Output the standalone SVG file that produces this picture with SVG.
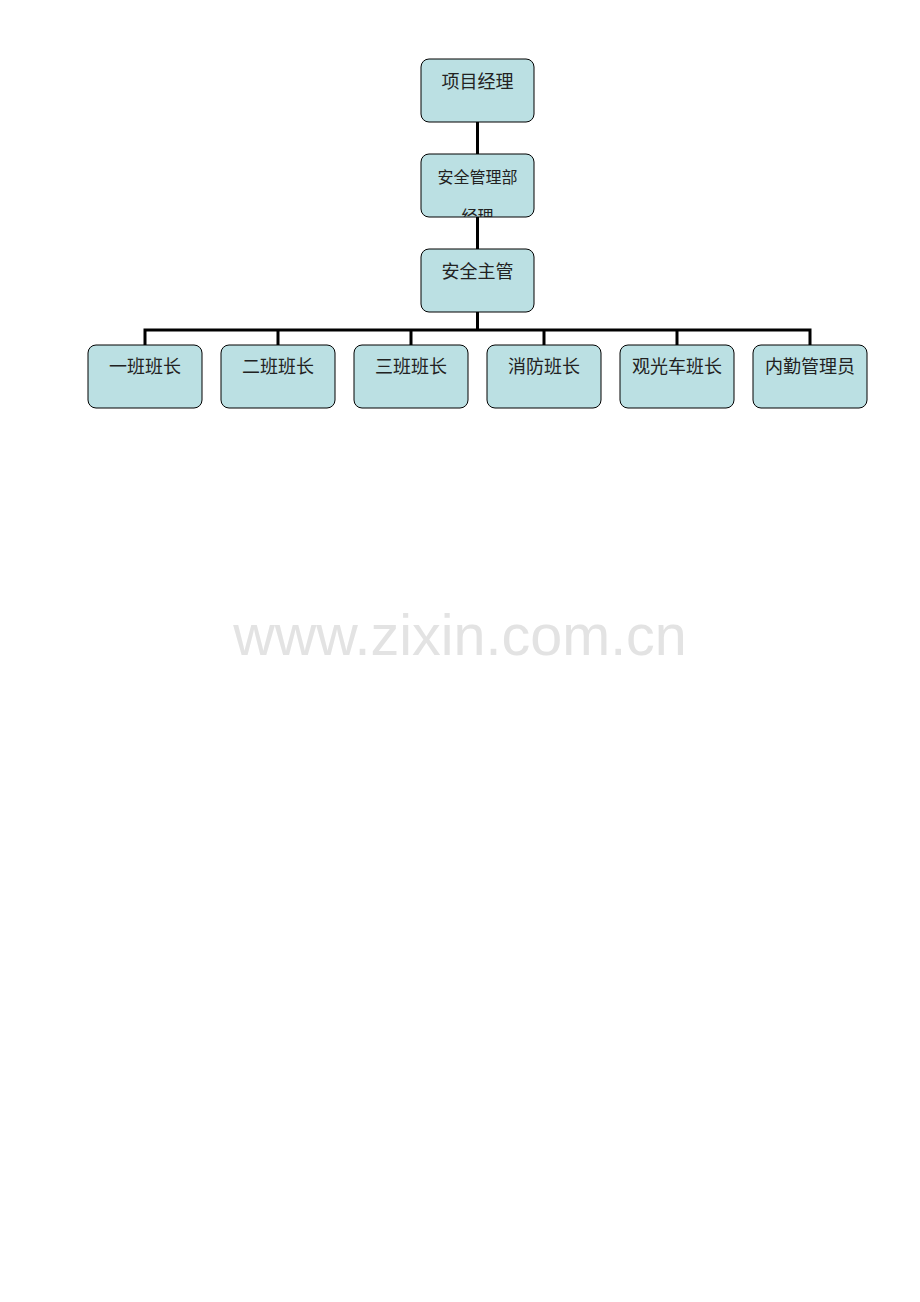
<svg xmlns="http://www.w3.org/2000/svg" width="920" height="1302" viewBox="0 0 920 1302">
<style>
.box{fill:#bbe0e3;stroke:#000;stroke-width:1}
.t{font-family:"Noto Sans CJK SC","Noto Sans",sans-serif;font-size:18px;fill:#222;text-anchor:middle}
.s{font-size:16px}
.c{stroke:#000;stroke-width:3;fill:none}
.wm{font-family:"Liberation Sans",Arial,sans-serif;font-size:57.5px;fill:#e3e3e3;text-anchor:middle}
</style>
<defs>
<clipPath id="clip2"><rect x="421" y="154" width="113" height="63" rx="8"/></clipPath>
</defs>
<rect width="920" height="1302" fill="#fff"/>
<text class="wm" x="460" y="655">www.zixin.com.cn</text>
<g id="connectors">
<line class="c" x1="477.5" y1="122" x2="477.5" y2="154"/>
<line class="c" x1="477.5" y1="217" x2="477.5" y2="249"/>
<line class="c" x1="477.5" y1="312" x2="477.5" y2="330"/>
<polyline class="c" points="145,345 145,330 810,330 810,345"/>
<line class="c" x1="278" y1="330" x2="278" y2="345"/>
<line class="c" x1="411" y1="330" x2="411" y2="345"/>
<line class="c" x1="544" y1="330" x2="544" y2="345"/>
<line class="c" x1="677" y1="330" x2="677" y2="345"/>
</g>
<g id="n1"><rect class="box" x="421" y="59" width="113" height="63" rx="8"/><text class="t" x="477.5" y="88">项目经理</text></g>
<g id="n2"><rect class="box" x="421" y="154" width="113" height="63" rx="8"/>
<g clip-path="url(#clip2)"><text class="t s" x="477.5" y="183">安全管理部</text><text class="t s" x="477.5" y="222">经理</text></g></g>
<g id="n3"><rect class="box" x="421" y="249" width="113" height="63" rx="8"/><text class="t" x="477.5" y="278">安全主管</text></g>
<g id="n4"><rect class="box" x="88" y="345" width="114" height="63" rx="8"/><text class="t" x="145" y="373">一班班长</text></g>
<g id="n5"><rect class="box" x="221" y="345" width="114" height="63" rx="8"/><text class="t" x="278" y="373">二班班长</text></g>
<g id="n6"><rect class="box" x="354" y="345" width="114" height="63" rx="8"/><text class="t" x="411" y="373">三班班长</text></g>
<g id="n7"><rect class="box" x="487" y="345" width="114" height="63" rx="8"/><text class="t" x="544" y="373">消防班长</text></g>
<g id="n8"><rect class="box" x="620" y="345" width="114" height="63" rx="8"/><text class="t" x="677" y="373">观光车班长</text></g>
<g id="n9"><rect class="box" x="753" y="345" width="114" height="63" rx="8"/><text class="t" x="810" y="373">内勤管理员</text></g>
</svg>
